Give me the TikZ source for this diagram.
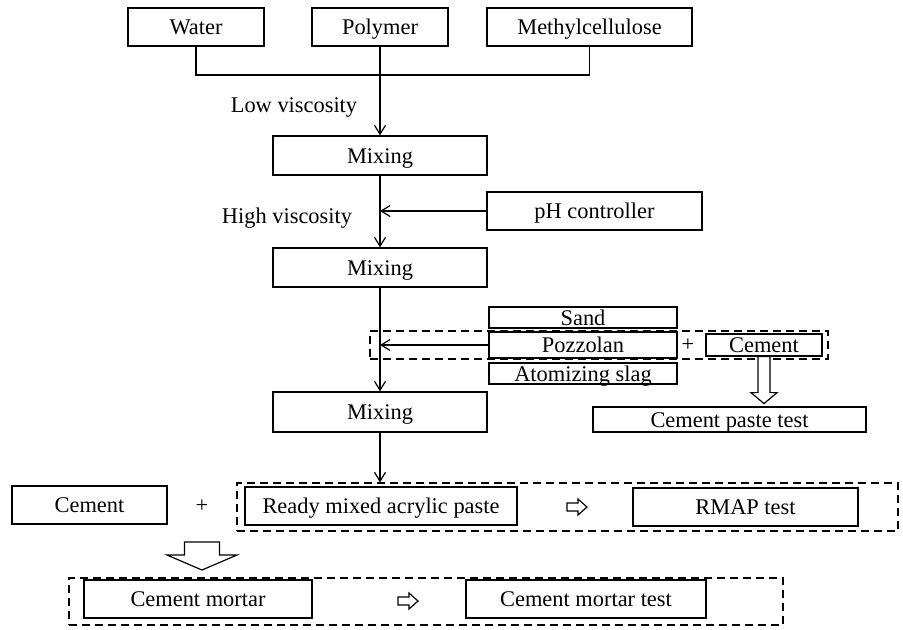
\documentclass[tikz,border=0pt]{standalone}
\usepackage{fontspec}
\setmainfont{Liberation Serif}
\usetikzlibrary{arrows.meta}

\tikzset{
  box/.style 2 args={draw, line width=0.6pt, inner sep=0pt,
    text height=9pt, text depth=1.2pt,
    minimum width=#1*0.5pt, minimum height=#2*0.5pt},
  grp/.style 2 args={draw, line width=0.6pt, dash pattern=on 4pt off 2.5pt,
    inner sep=0pt, minimum width=#1*0.5pt, minimum height=#2*0.5pt},
  hollow/.style={draw, line width=0.6pt, fill=white},
}

\begin{document}
\begin{tikzpicture}[x=0.5pt, y=-0.5pt, line width=0.6pt,
    font=\fontsize{11.2}{13}\selectfont,
    >={Straight Barb[length=4.5pt,width=5.5pt]}]
  \useasboundingbox (0,0) rectangle (903,629);
  % ingredients
  \node[box={136}{38}] (water) at (196,27) {Water};
  \node[box={136}{38}] (polymer) at (380,27) {Polymer};
  \node[box={205}{38}] (methyl) at (589.5,27) {Methylcellulose};
  \coordinate (bus) at (380,75);
  \draw (water.south) |- (bus) -| (methyl.south);
  % first mixing
  \node at (294,107) (lowv) {Low viscosity};
  \node[box={214}{39}] (mix1) at (380,155.5) {Mixing};
  \draw[->] (polymer.south) -- (mix1.north);
  % second mixing
  \node at (287,218) (highv) {High viscosity};
  \node[box={215}{38}] (ph) at (594.5,211) {pH controller};
  \node[box={214}{39}] (mix2) at (380,267.5) {Mixing};
  \draw[->] (mix1.south) -- (mix2.north);
  \draw[->] (ph.west) -- (ph.west -| mix1.south);
  % fillers and cement paste
  \node[grp={458}{28}] (grpA) at (599,345) {};
  \node[box={188}{21}] (sand) at (583,317.5) {Sand};
  \node[box={188}{26}] (pozz) at (583,345) {Pozzolan};
  \node[box={188}{21}] (slag) at (583,373.5) {Atomizing slag};
  \node at (688,345) (plusA) {+};
  \node[box={116}{22}] (cemA) at (764,345) {Cement};
  \node[box={273}{25}] (cpt) at (729.5,419.5) {Cement paste test};
  \draw[hollow] (cemA.south) ++(-6,0) -- ++(12,0) -- ++(0,36) -- ++(7,0)
    -- ++(-13,11) -- ++(-13,-11) -- ++(7,0) -- cycle;
  % third mixing
  \node[box={214}{40}] (mix3) at (380,412) {Mixing};
  \draw[->] (mix2.south) -- (mix3.north);
  \draw[->] (pozz.west) -- (pozz.west -| mix2.south);
  % acrylic paste
  \node[grp={661}{48}] (grpB) at (567.5,507) {};
  \node[box={155}{38}] (cemB) at (89.5,505) {Cement};
  \node at (202,506) (plusB) {+};
  \node[box={272}{38}] (paste) at (381,506) {Ready mixed acrylic paste};
  \node[box={225}{38}] (rmap) at (745.5,507) {RMAP test};
  \draw[->] (mix3.south) -- (mix3.south |- grpB.north);
  \coordinate (arrA) at (577,507);
  \draw[hollow] (arrA) ++(-10,-4) -- ++(11,0) -- ++(0,-4) -- ++(9,8)
    -- ++(-9,8) -- ++(0,-4) -- ++(-11,0) -- cycle;
  % mortar
  \coordinate (bigarr) at (202,542);
  \draw[hollow] (bigarr) ++(-17.5,0) -- ++(35,0) -- ++(0,13) -- ++(17.5,0)
    -- ++(-35,15) -- ++(-35,-15) -- ++(17.5,0) -- cycle;
  \node[grp={714}{47}] (grpC) at (426,601.5) {};
  \node[box={228}{38}] (mortar) at (198,599) {Cement mortar};
  \node[box={240}{38}] (mtest) at (586,599) {Cement mortar test};
  \coordinate (arrB) at (408,601);
  \draw[hollow] (arrB) ++(-10,-4) -- ++(11,0) -- ++(0,-4) -- ++(9,8)
    -- ++(-9,8) -- ++(0,-4) -- ++(-11,0) -- cycle;
\end{tikzpicture}
\end{document}
